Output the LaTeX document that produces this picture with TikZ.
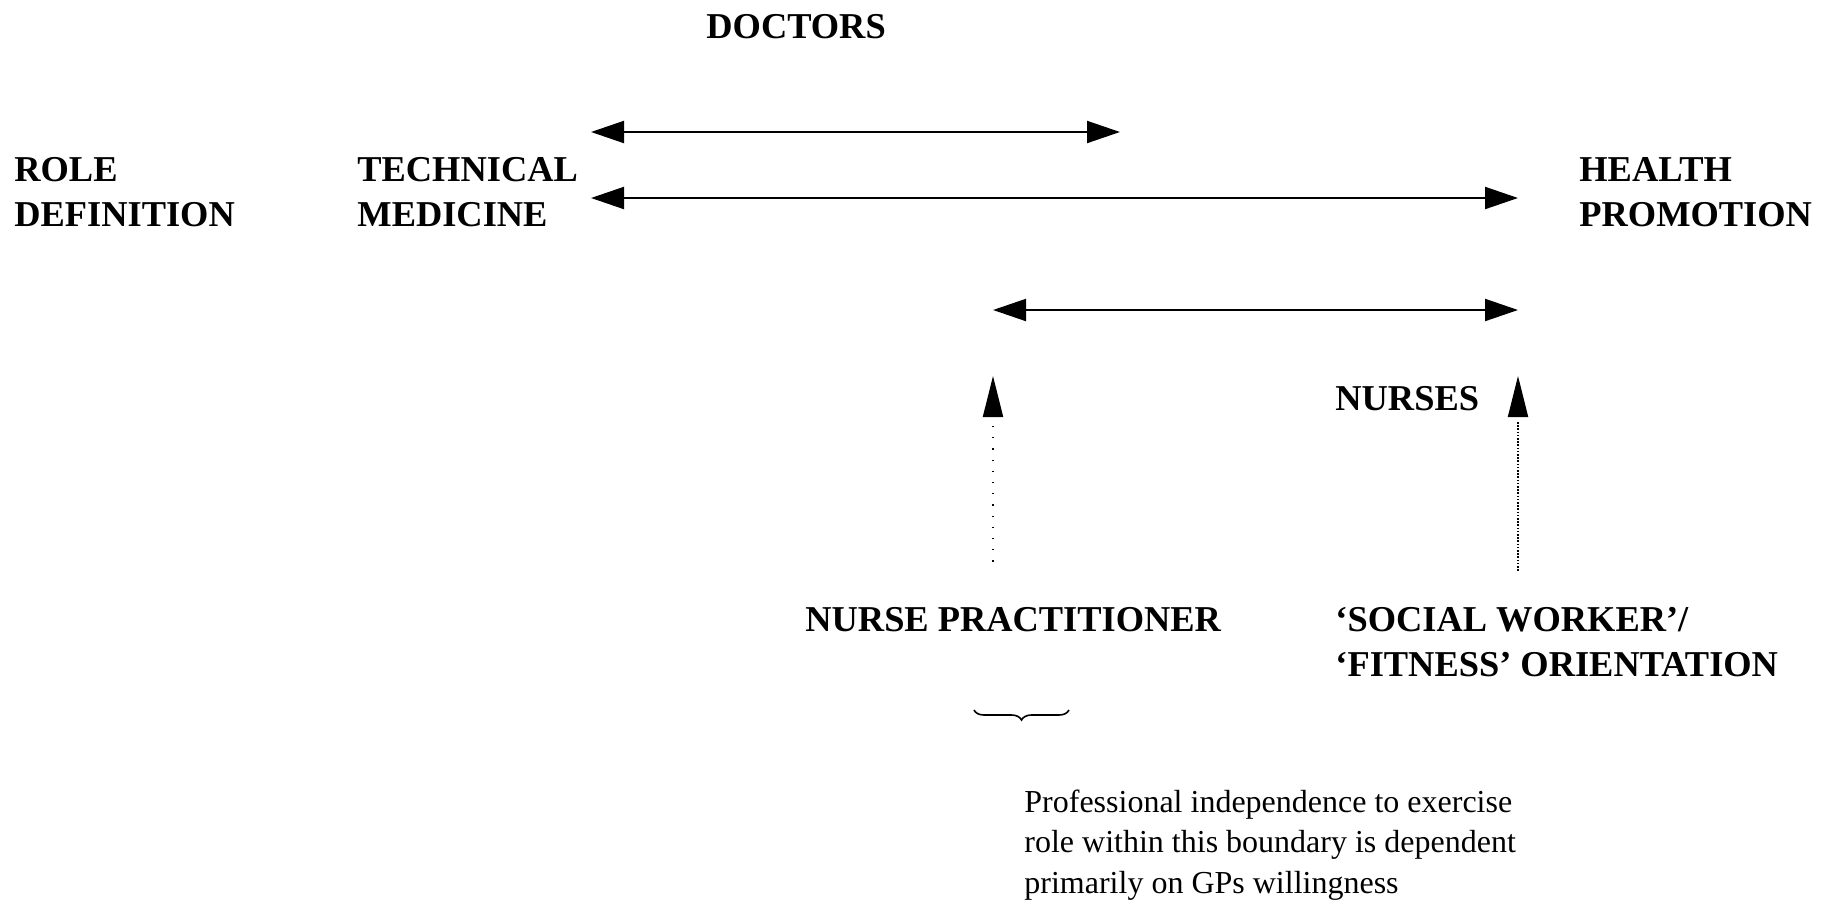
\documentclass[tikz,border=0pt]{standalone}
\usepackage{fontspec}
\setmainfont{Liberation Serif}
\usetikzlibrary{arrows.meta,decorations.pathreplacing}

\begin{document}
\begin{tikzpicture}[x=0.5pt,y=-0.5pt,
  heading/.style={font=\fontsize{18.2}{22.5}\selectfont\bfseries, anchor=base west, inner sep=0pt, align=left},
  notetext/.style={font=\fontsize{16}{20.25}\selectfont, anchor=base west, inner sep=0pt, align=left},
  span/.style={line width=1pt, {Triangle[length=16.5pt,width=11pt]}-{Triangle[length=16.5pt,width=11pt]}},
  uphead/.style={line width=1pt, -{Triangle[length=20.5pt,width=10pt]}},
  sparsedots/.style={line width=0.6pt, dash pattern=on 0.6pt off 5pt},
  densedots/.style={line width=0.8pt, dash pattern=on 0.8pt off 0.8pt},
]
\useasboundingbox (0,0) rectangle (1824,905);

% labels (a multi-line label is placed by the baseline of its last line)
\node[heading] (doctors) at (706,38) {DOCTORS};
\node[heading] (role) at (14,226) {ROLE\\DEFINITION};
\node[heading] (tech) at (357,226) {TECHNICAL\\MEDICINE};
\node[heading] (health) at (1579,226) {HEALTH\\PROMOTION};
\node[heading] (nurses) at (1335,410) {NURSES};
\node[heading] (np) at (805,631) {NURSE PRACTITIONER};
\node[heading] (social) at (1335,676) {`SOCIAL WORKER'/\\`FITNESS' ORIENTATION};
\node[notetext] (note) at (1024,893) {Professional independence to exercise\\role within this boundary is dependent\\primarily on GPs willingness};

% ends of the range arrows
\coordinate (docL) at (591,132);
\coordinate (docR) at (1120,132);
\coordinate (allL) at (591,198);
\coordinate (allR) at (1518,198);
\coordinate (nurL) at (993,310);
\coordinate (nurR) at (1518,310);

\draw[span] (docL) -- (docR);
\draw[span] (allL) -- (allR);
\draw[span] (nurL) -- (nurR);

% upward pointers with dotted shafts
\coordinate (npTip) at (993,376);
\coordinate (npBase) at (993,416);
\coordinate (npTop) at (993,426);
\coordinate (npFoot) at (993,570);
\coordinate (swTip) at (1518,376);
\coordinate (swBase) at (1518,416);
\coordinate (swTop) at (1518,422);
\coordinate (swFoot) at (1518,572);

\draw[uphead] (npBase) -- (npTip);
\draw[uphead] (swBase) -- (swTip);
\draw[sparsedots] (npTop) -- (npFoot);
\draw[densedots] (swTop) -- (swFoot);

% brace over the note
\coordinate (brL) at (974,710);
\coordinate (brR) at (1069,710);
\draw[line width=0.8pt, decorate, decoration={brace, mirror, amplitude=5pt}] (brL) -- (brR);
\end{tikzpicture}
\end{document}
